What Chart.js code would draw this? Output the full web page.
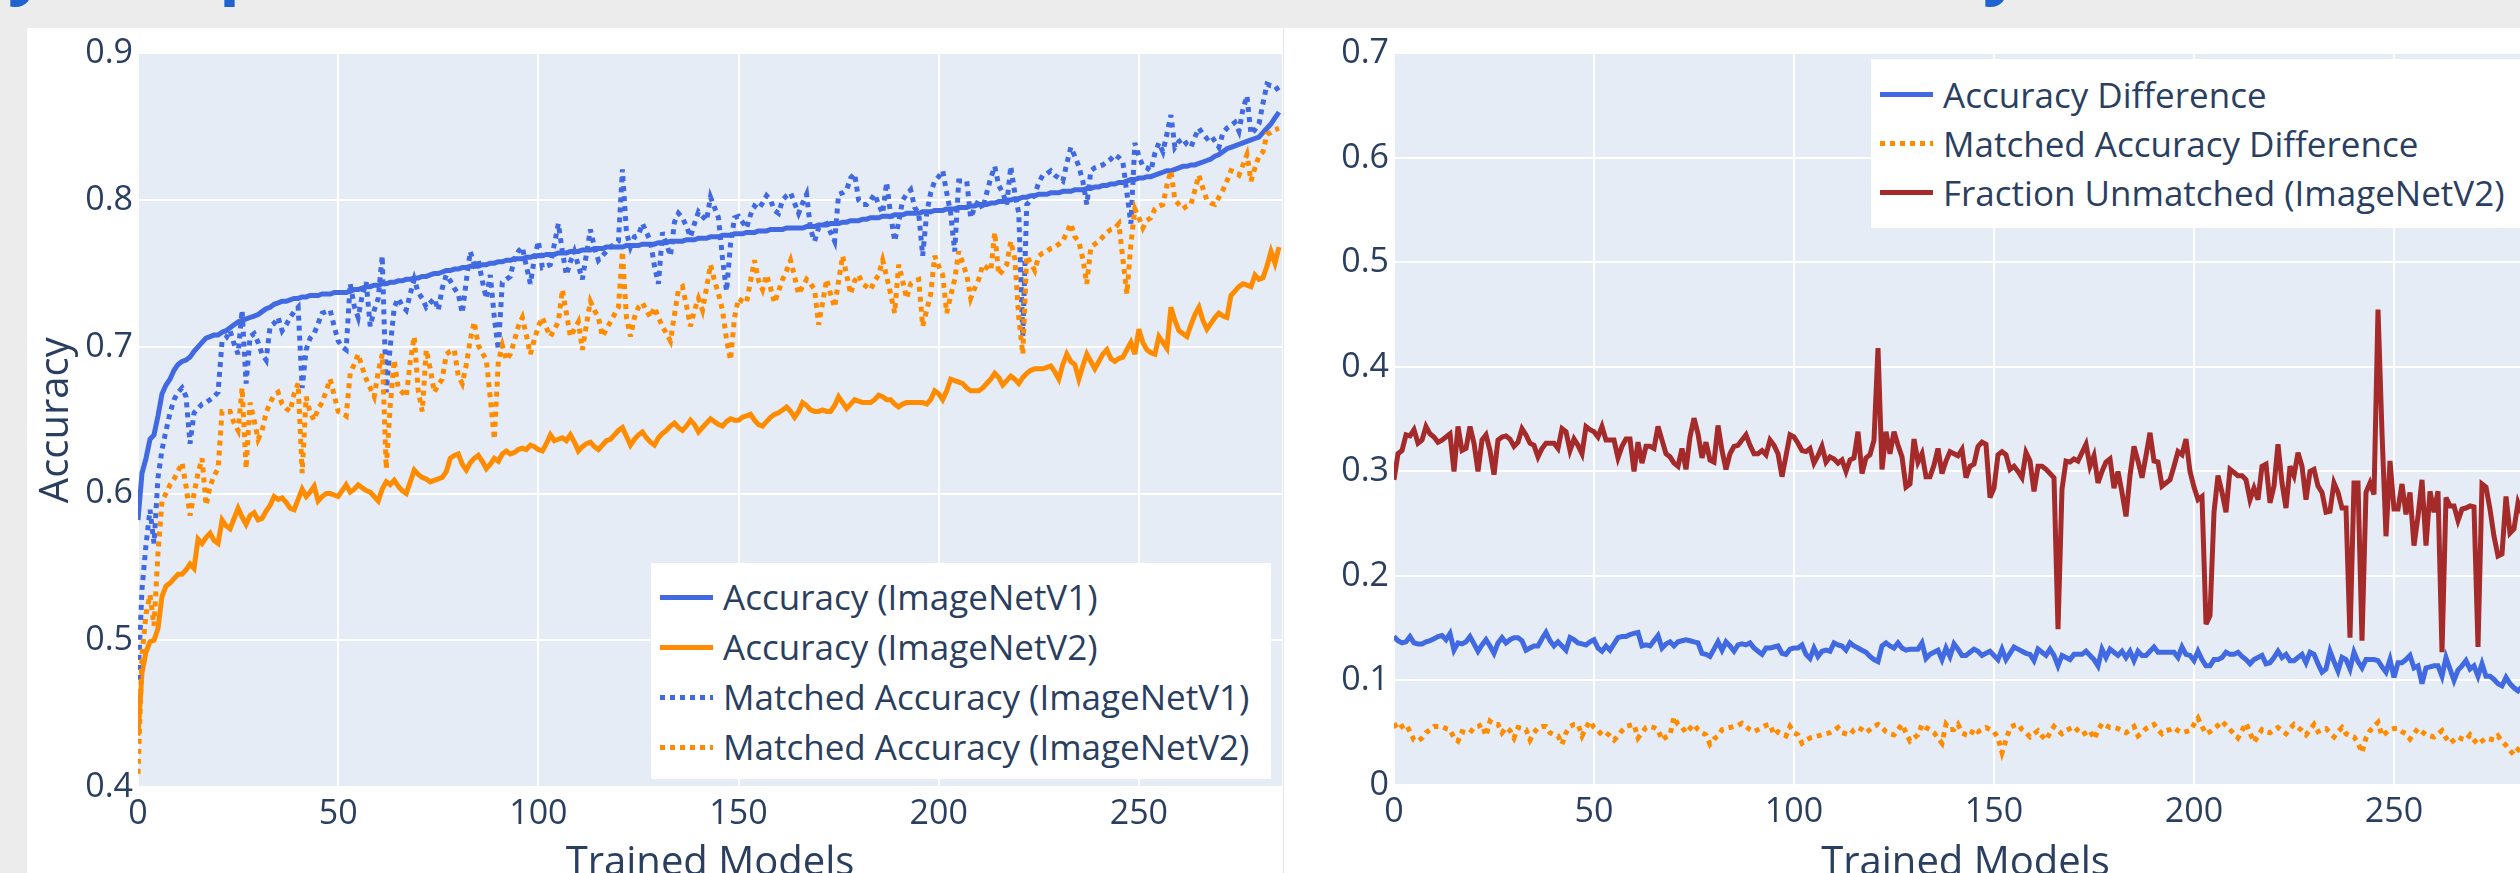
<!DOCTYPE html>
<html>
<head>
<meta charset="utf-8">
<title>Accuracy comparison</title>
<script src="https://cdn.jsdelivr.net/npm/chart.js@4.4.1/dist/chart.umd.min.js"></script>
<style>
  html, body { margin: 0; padding: 0; overflow: hidden; }
  body { width: 2520px; height: 873px; position: relative; background: #ececec; font-family: 'Open Sans', sans-serif; }
  .heading { position: absolute; left: 0; top: -73px; font: 700 72px/1 'Open Sans', sans-serif; color: #1f62d0; white-space: nowrap; }
  .card { position: absolute; top: 28px; height: 860px; background: #fff; }
  .box { position: absolute; width: 1256px; height: 864px; }
  .legend { position: absolute; box-sizing: border-box; background: #fff; color: #2a3f5f; font: 35px 'Open Sans', sans-serif; }
  .legend .row { position: relative; white-space: nowrap; }
  .legend .swatch { position: absolute; left: 9px; width: 53px; height: 5px; }
  .legend .label { position: absolute; left: 72px; top: 0; }
  .base { display: inline-block; width: 0; height: 0; vertical-align: baseline; }
</style>
</head>
<body>
<div class="heading" id="headLeft">Accurac<span id="markY1">y</span> Com<span id="markP1">p</span>arison<span class="base"></span></div>
<div class="heading" id="headRight">Accurac<span id="markY2">y</span> Difference<span class="base"></span></div>
<div class="card" style="left:27px;width:1256px"></div>
<div class="card" style="left:1283px;width:1300px;border-left:1px solid #e6e6e6"></div>
<div class="box" style="left:27px;top:28px"><canvas id="leftChart"></canvas></div>
<div class="box" style="left:1284px;top:28px"><canvas id="rightChart"></canvas></div>
<div class="legend" id="leftLegend" style="left:651px;top:563px;width:620px;height:216px;padding-top:9px"></div>
<div class="legend" id="rightLegend" style="left:1871px;top:59px;width:700px;height:169px;padding-top:11px"></div>
<script>
// accuracy of each trained model (x = model index 0..285)
const accV1 = [
  0.582,0.614,0.624,0.637,0.640,0.653,0.668,0.674,0.678,0.684,
  0.688,0.690,0.691,0.693,0.697,0.700,0.703,0.706,0.707,0.708,
  0.708,0.710,0.711,0.713,0.715,0.717,0.718,0.719,0.720,0.721,
  0.722,0.724,0.726,0.727,0.729,0.730,0.731,0.731,0.732,0.733,
  0.733,0.734,0.734,0.735,0.735,0.735,0.736,0.736,0.736,0.737,
  0.737,0.737,0.737,0.738,0.739,0.739,0.740,0.741,0.741,0.742,
  0.742,0.743,0.743,0.744,0.744,0.745,0.745,0.746,0.746,0.747,
  0.747,0.748,0.748,0.749,0.750,0.750,0.751,0.752,0.752,0.753,
  0.753,0.754,0.754,0.755,0.755,0.755,0.756,0.756,0.757,0.757,
  0.758,0.758,0.759,0.759,0.760,0.760,0.760,0.761,0.761,0.762,
  0.762,0.762,0.763,0.763,0.763,0.764,0.764,0.764,0.765,0.765,
  0.765,0.766,0.766,0.766,0.767,0.767,0.767,0.768,0.768,0.768,
  0.768,0.768,0.769,0.769,0.769,0.769,0.770,0.770,0.770,0.770,
  0.771,0.771,0.771,0.772,0.772,0.772,0.772,0.773,0.773,0.773,
  0.774,0.774,0.774,0.775,0.775,0.775,0.776,0.776,0.776,0.777,
  0.777,0.777,0.778,0.778,0.778,0.779,0.779,0.779,0.780,0.780,
  0.780,0.780,0.781,0.781,0.781,0.781,0.781,0.782,0.782,0.782,
  0.783,0.783,0.783,0.784,0.784,0.784,0.785,0.785,0.786,0.786,
  0.786,0.787,0.787,0.788,0.788,0.788,0.789,0.789,0.789,0.790,
  0.790,0.790,0.791,0.791,0.791,0.791,0.792,0.792,0.792,0.793,
  0.793,0.793,0.794,0.794,0.794,0.795,0.795,0.795,0.796,0.796,
  0.797,0.797,0.797,0.798,0.798,0.799,0.799,0.800,0.800,0.801,
  0.801,0.802,0.802,0.803,0.803,0.804,0.804,0.804,0.805,0.805,
  0.805,0.806,0.806,0.806,0.807,0.807,0.807,0.808,0.808,0.809,
  0.809,0.810,0.810,0.811,0.811,0.812,0.812,0.813,0.814,0.814,
  0.815,0.815,0.816,0.816,0.817,0.818,0.819,0.820,0.820,0.821,
  0.822,0.823,0.823,0.824,0.824,0.825,0.826,0.827,0.828,0.830,
  0.831,0.833,0.835,0.836,0.837,0.838,0.839,0.840,0.841,0.842,
  0.843,0.846,0.849,0.852,0.856,0.860
];
const accV2 = [
  0.435,0.478,0.492,0.499,0.500,0.508,0.530,0.537,0.539,0.542,
  0.545,0.545,0.548,0.552,0.549,0.569,0.566,0.570,0.573,0.568,
  0.566,0.582,0.578,0.576,0.583,0.590,0.584,0.579,0.585,0.587,
  0.582,0.583,0.588,0.592,0.598,0.596,0.597,0.594,0.590,0.589,
  0.596,0.603,0.598,0.601,0.605,0.595,0.598,0.600,0.600,0.599,
  0.598,0.602,0.606,0.601,0.603,0.606,0.604,0.602,0.601,0.598,
  0.595,0.603,0.608,0.606,0.609,0.605,0.602,0.600,0.608,0.616,
  0.613,0.611,0.610,0.608,0.609,0.610,0.611,0.615,0.624,0.626,
  0.627,0.620,0.616,0.621,0.624,0.626,0.622,0.617,0.620,0.624,
  0.622,0.627,0.629,0.627,0.628,0.630,0.631,0.630,0.633,0.632,
  0.630,0.629,0.634,0.640,0.636,0.637,0.638,0.636,0.640,0.635,
  0.629,0.632,0.634,0.635,0.632,0.630,0.633,0.636,0.637,0.640,
  0.643,0.645,0.639,0.633,0.637,0.640,0.642,0.638,0.635,0.633,
  0.638,0.641,0.643,0.646,0.648,0.645,0.643,0.646,0.650,0.647,
  0.642,0.645,0.648,0.651,0.649,0.647,0.646,0.649,0.651,0.650,
  0.650,0.652,0.653,0.654,0.650,0.647,0.646,0.649,0.652,0.654,
  0.655,0.657,0.659,0.656,0.652,0.656,0.662,0.660,0.657,0.656,
  0.656,0.657,0.656,0.656,0.660,0.666,0.662,0.658,0.661,0.664,
  0.663,0.662,0.662,0.662,0.664,0.667,0.666,0.664,0.664,0.661,
  0.659,0.661,0.662,0.662,0.662,0.662,0.662,0.661,0.664,0.670,
  0.668,0.664,0.670,0.678,0.677,0.676,0.675,0.672,0.670,0.670,
  0.670,0.672,0.675,0.678,0.682,0.679,0.674,0.677,0.680,0.678,
  0.675,0.679,0.682,0.684,0.685,0.685,0.685,0.686,0.687,0.683,
  0.678,0.688,0.695,0.690,0.688,0.678,0.687,0.695,0.690,0.685,
  0.690,0.695,0.698,0.692,0.690,0.692,0.693,0.698,0.703,0.695,
  0.712,0.703,0.698,0.696,0.695,0.707,0.703,0.699,0.727,0.718,
  0.711,0.709,0.707,0.715,0.722,0.727,0.718,0.712,0.716,0.720,
  0.723,0.721,0.720,0.735,0.738,0.741,0.743,0.742,0.741,0.749,
  0.746,0.747,0.755,0.765,0.757,0.768
];
const matchedV1 = [
  0.473,0.535,0.565,0.589,0.566,0.611,0.630,0.643,0.655,0.664,
  0.669,0.672,0.666,0.634,0.655,0.658,0.661,0.662,0.664,0.666,
  0.669,0.704,0.706,0.711,0.702,0.695,0.725,0.675,0.707,0.709,
  0.703,0.695,0.691,0.714,0.716,0.720,0.711,0.715,0.720,0.724,
  0.727,0.672,0.698,0.706,0.709,0.716,0.723,0.724,0.725,0.714,
  0.704,0.700,0.698,0.743,0.728,0.720,0.735,0.744,0.714,0.725,
  0.733,0.762,0.669,0.700,0.727,0.733,0.728,0.725,0.736,0.746,
  0.737,0.733,0.727,0.730,0.733,0.725,0.740,0.749,0.745,0.740,
  0.736,0.723,0.745,0.765,0.756,0.759,0.745,0.733,0.749,0.720,
  0.698,0.744,0.746,0.748,0.760,0.765,0.768,0.755,0.743,0.760,
  0.772,0.754,0.755,0.756,0.770,0.784,0.765,0.749,0.758,0.765,
  0.755,0.746,0.763,0.780,0.768,0.759,0.762,0.765,0.768,0.770,
  0.772,0.821,0.778,0.768,0.775,0.776,0.784,0.778,0.772,0.755,
  0.743,0.778,0.770,0.762,0.785,0.791,0.788,0.782,0.775,0.784,
  0.792,0.789,0.786,0.802,0.795,0.788,0.760,0.738,0.770,0.788,
  0.789,0.785,0.781,0.790,0.796,0.794,0.798,0.803,0.800,0.793,
  0.791,0.800,0.803,0.805,0.798,0.791,0.798,0.804,0.780,0.772,
  0.781,0.783,0.784,0.778,0.772,0.804,0.805,0.807,0.815,0.818,
  0.800,0.797,0.797,0.800,0.804,0.797,0.791,0.812,0.790,0.772,
  0.785,0.800,0.804,0.807,0.795,0.791,0.762,0.791,0.805,0.813,
  0.816,0.820,0.805,0.791,0.765,0.813,0.813,0.813,0.788,0.795,
  0.800,0.794,0.805,0.815,0.823,0.810,0.805,0.797,0.823,0.805,
  0.791,0.707,0.797,0.800,0.804,0.812,0.817,0.818,0.820,0.817,
  0.815,0.813,0.825,0.836,0.830,0.823,0.813,0.797,0.820,0.822,
  0.823,0.824,0.826,0.828,0.831,0.829,0.826,0.805,0.784,0.839,
  0.830,0.823,0.822,0.820,0.832,0.839,0.833,0.845,0.858,0.836,
  0.840,0.842,0.838,0.836,0.843,0.849,0.845,0.842,0.844,0.840,
  0.836,0.846,0.849,0.851,0.853,0.847,0.862,0.871,0.845,0.848,
  0.852,0.866,0.879,0.878,0.878,0.874
];
const matchedV2 = [
  0.409,0.490,0.518,0.531,0.510,0.560,0.595,0.600,0.606,0.610,
  0.615,0.621,0.605,0.585,0.600,0.614,0.624,0.592,0.605,0.612,
  0.617,0.656,0.656,0.656,0.648,0.643,0.672,0.617,0.662,0.650,
  0.637,0.643,0.655,0.662,0.667,0.669,0.661,0.658,0.656,0.668,
  0.675,0.614,0.666,0.655,0.650,0.658,0.662,0.670,0.678,0.667,
  0.656,0.655,0.653,0.682,0.688,0.695,0.686,0.678,0.672,0.666,
  0.683,0.695,0.617,0.660,0.691,0.672,0.669,0.666,0.690,0.707,
  0.670,0.656,0.698,0.685,0.669,0.674,0.678,0.695,0.697,0.698,
  0.680,0.675,0.688,0.705,0.717,0.701,0.696,0.691,0.665,0.637,
  0.690,0.701,0.691,0.695,0.704,0.714,0.720,0.708,0.695,0.705,
  0.714,0.720,0.713,0.707,0.712,0.717,0.739,0.723,0.707,0.712,
  0.717,0.698,0.715,0.731,0.725,0.720,0.707,0.712,0.717,0.722,
  0.727,0.765,0.720,0.707,0.720,0.727,0.730,0.725,0.720,0.727,
  0.720,0.714,0.709,0.704,0.722,0.739,0.741,0.728,0.714,0.725,
  0.733,0.725,0.740,0.756,0.745,0.736,0.725,0.705,0.691,0.720,
  0.733,0.731,0.730,0.745,0.759,0.745,0.739,0.749,0.740,0.730,
  0.738,0.746,0.752,0.759,0.748,0.736,0.741,0.746,0.743,0.739,
  0.715,0.730,0.746,0.736,0.727,0.745,0.762,0.749,0.736,0.745,
  0.749,0.743,0.741,0.739,0.745,0.749,0.759,0.748,0.736,0.723,
  0.756,0.745,0.733,0.743,0.745,0.746,0.714,0.725,0.736,0.762,
  0.755,0.749,0.723,0.735,0.746,0.765,0.757,0.749,0.733,0.740,
  0.746,0.756,0.754,0.752,0.778,0.749,0.752,0.756,0.772,0.760,
  0.720,0.695,0.762,0.757,0.752,0.762,0.764,0.765,0.767,0.768,
  0.770,0.772,0.778,0.784,0.775,0.772,0.760,0.743,0.768,0.770,
  0.772,0.775,0.778,0.780,0.781,0.784,0.760,0.736,0.770,0.794,
  0.788,0.781,0.786,0.788,0.794,0.796,0.797,0.810,0.820,0.800,
  0.797,0.794,0.796,0.797,0.807,0.817,0.808,0.800,0.798,0.797,
  0.802,0.807,0.813,0.820,0.819,0.817,0.824,0.831,0.813,0.822,
  0.830,0.833,0.845,0.846,0.848,0.849
];
// differences between the two test sets
const accDiff = [
  0.142,0.138,0.136,0.137,0.142,0.136,0.135,0.135,0.137,0.138,
  0.140,0.142,0.143,0.139,0.145,0.129,0.136,0.135,0.137,0.142,
  0.135,0.128,0.134,0.139,0.133,0.126,0.136,0.141,0.136,0.139,
  0.141,0.141,0.138,0.129,0.131,0.133,0.133,0.140,0.146,0.138,
  0.133,0.137,0.133,0.129,0.141,0.139,0.136,0.135,0.134,0.137,
  0.139,0.131,0.128,0.133,0.129,0.135,0.141,0.142,0.142,0.144,
  0.145,0.146,0.133,0.134,0.133,0.138,0.143,0.131,0.135,0.137,
  0.133,0.137,0.138,0.139,0.138,0.137,0.136,0.126,0.125,0.123,
  0.130,0.137,0.129,0.137,0.133,0.128,0.134,0.135,0.134,0.136,
  0.131,0.128,0.125,0.131,0.131,0.132,0.133,0.126,0.125,0.130,
  0.131,0.131,0.134,0.125,0.121,0.131,0.123,0.128,0.129,0.128,
  0.136,0.134,0.133,0.129,0.136,0.133,0.131,0.129,0.127,0.123,
  0.120,0.118,0.133,0.136,0.133,0.131,0.136,0.131,0.129,0.130,
  0.130,0.130,0.136,0.121,0.125,0.127,0.129,0.120,0.131,0.123,
  0.135,0.130,0.124,0.124,0.127,0.130,0.128,0.124,0.126,0.128,
  0.124,0.120,0.130,0.120,0.126,0.132,0.130,0.128,0.126,0.125,
  0.119,0.130,0.127,0.124,0.130,0.124,0.114,0.124,0.122,0.120,
  0.125,0.125,0.125,0.128,0.124,0.120,0.114,0.130,0.122,0.130,
  0.127,0.124,0.128,0.122,0.128,0.119,0.128,0.124,0.124,0.128,
  0.132,0.127,0.127,0.127,0.127,0.127,0.122,0.132,0.125,0.124,
  0.119,0.128,0.120,0.114,0.114,0.120,0.120,0.122,0.127,0.125,
  0.125,0.127,0.123,0.120,0.116,0.120,0.122,0.124,0.116,0.117,
  0.122,0.128,0.122,0.125,0.119,0.119,0.122,0.125,0.117,0.127,
  0.125,0.116,0.108,0.111,0.128,0.118,0.109,0.122,0.120,0.111,
  0.127,0.118,0.112,0.120,0.120,0.120,0.119,0.113,0.108,0.120,
  0.103,0.117,0.117,0.120,0.124,0.112,0.114,0.097,0.112,0.113,
  0.114,0.114,0.104,0.122,0.111,0.100,0.110,0.114,0.119,0.111,
  0.114,0.104,0.116,0.104,0.104,0.101,0.097,0.095,0.103,0.097,
  0.093,0.090,0.094,0.091,0.095,0.092
];
const matchedDiff = [
  0.059,0.053,0.056,0.058,0.051,0.043,0.042,0.045,0.050,0.053,
  0.056,0.056,0.056,0.054,0.053,0.045,0.042,0.051,0.050,0.050,
  0.055,0.056,0.058,0.047,0.061,0.058,0.058,0.050,0.055,0.052,
  0.045,0.055,0.054,0.053,0.043,0.050,0.055,0.056,0.056,0.050,
  0.048,0.047,0.039,0.050,0.056,0.058,0.058,0.047,0.055,0.061,
  0.055,0.052,0.048,0.050,0.047,0.043,0.047,0.052,0.056,0.057,
  0.058,0.045,0.050,0.055,0.056,0.055,0.053,0.043,0.046,0.048,
  0.065,0.058,0.055,0.050,0.054,0.058,0.053,0.050,0.048,0.039,
  0.044,0.047,0.053,0.054,0.055,0.056,0.057,0.059,0.056,0.053,
  0.051,0.053,0.055,0.057,0.058,0.048,0.051,0.049,0.047,0.056,
  0.050,0.048,0.040,0.043,0.045,0.046,0.047,0.048,0.049,0.050,
  0.052,0.055,0.050,0.049,0.048,0.053,0.055,0.053,0.050,0.053,
  0.056,0.058,0.055,0.051,0.049,0.048,0.053,0.058,0.050,0.042,
  0.045,0.048,0.058,0.055,0.053,0.050,0.045,0.040,0.058,0.053,
  0.053,0.058,0.050,0.048,0.047,0.054,0.051,0.053,0.055,0.053,
  0.051,0.045,0.031,0.043,0.055,0.057,0.058,0.053,0.050,0.046,
  0.049,0.052,0.047,0.043,0.050,0.056,0.052,0.049,0.052,0.054,
  0.056,0.052,0.048,0.050,0.052,0.044,0.052,0.059,0.057,0.055,
  0.055,0.054,0.052,0.050,0.053,0.056,0.047,0.050,0.054,0.056,
  0.058,0.053,0.049,0.052,0.053,0.055,0.052,0.050,0.051,0.052,
  0.058,0.064,0.056,0.049,0.051,0.054,0.057,0.061,0.057,0.053,
  0.049,0.045,0.052,0.059,0.050,0.041,0.047,0.053,0.051,0.050,
  0.053,0.055,0.052,0.049,0.054,0.058,0.055,0.052,0.048,0.053,
  0.058,0.051,0.053,0.054,0.050,0.046,0.051,0.055,0.049,0.047,
  0.046,0.040,0.031,0.045,0.052,0.056,0.060,0.047,0.050,0.053,
  0.054,0.054,0.051,0.049,0.044,0.049,0.054,0.051,0.048,0.047,
  0.046,0.049,0.052,0.045,0.040,0.043,0.046,0.044,0.043,0.048,
  0.043,0.039,0.042,0.045,0.044,0.043,0.047,0.042,0.038,0.033,
  0.029,0.034,0.031,0.028,0.032,0.030
];
const fracUnmatched = [
  0.292,0.317,0.320,0.335,0.334,0.340,0.327,0.330,0.343,0.336,
  0.333,0.328,0.330,0.333,0.336,0.300,0.343,0.320,0.322,0.343,
  0.327,0.300,0.330,0.335,0.320,0.297,0.330,0.333,0.334,0.331,
  0.324,0.328,0.341,0.335,0.327,0.325,0.314,0.322,0.327,0.327,
  0.327,0.322,0.341,0.338,0.320,0.331,0.325,0.317,0.343,0.340,
  0.338,0.333,0.343,0.330,0.330,0.330,0.313,0.324,0.331,0.331,
  0.300,0.328,0.308,0.324,0.324,0.322,0.343,0.330,0.317,0.314,
  0.308,0.305,0.322,0.302,0.333,0.351,0.336,0.313,0.328,0.311,
  0.309,0.344,0.320,0.302,0.317,0.324,0.325,0.330,0.335,0.325,
  0.317,0.317,0.320,0.316,0.330,0.325,0.317,0.295,0.315,0.335,
  0.333,0.327,0.320,0.319,0.322,0.308,0.315,0.324,0.309,0.314,
  0.312,0.308,0.311,0.300,0.311,0.313,0.338,0.298,0.313,0.316,
  0.330,0.418,0.302,0.338,0.317,0.338,0.325,0.314,0.285,0.288,
  0.331,0.309,0.317,0.295,0.295,0.306,0.322,0.298,0.310,0.319,
  0.317,0.315,0.321,0.294,0.305,0.307,0.324,0.328,0.326,0.275,
  0.284,0.316,0.319,0.316,0.302,0.305,0.300,0.294,0.318,0.310,
  0.281,0.305,0.305,0.302,0.298,0.294,0.149,0.283,0.310,0.309,
  0.312,0.310,0.318,0.326,0.305,0.315,0.289,0.300,0.309,0.312,
  0.284,0.300,0.280,0.257,0.296,0.324,0.310,0.294,0.315,0.337,
  0.310,0.309,0.286,0.289,0.292,0.305,0.319,0.316,0.331,0.300,
  0.285,0.273,0.276,0.154,0.162,0.261,0.296,0.280,0.261,0.302,
  0.299,0.296,0.296,0.292,0.273,0.284,0.273,0.305,0.307,0.270,
  0.286,0.326,0.289,0.265,0.305,0.296,0.318,0.305,0.273,0.300,
  0.302,0.286,0.280,0.261,0.262,0.289,0.280,0.265,0.265,0.141,
  0.289,0.289,0.138,0.280,0.289,0.278,0.455,0.337,0.238,0.310,
  0.264,0.264,0.288,0.259,0.280,0.229,0.257,0.292,0.229,0.281,
  0.261,0.281,0.127,0.275,0.267,0.267,0.253,0.264,0.265,0.267,
  0.266,0.132,0.288,0.285,0.264,0.238,0.219,0.221,0.276,0.241,
  0.245,0.270,0.260,0.265,0.272,0.258
];
const xTicks = [0, 50, 100, 150, 200, 250];

const tickColor = '#2a3f5f';
const tickFont = { family: "'Open Sans', sans-serif", size: 34 };
const titleFont = { family: "'Open Sans', sans-serif", size: 40 };
const blue = '#4169e1';
const orange = '#ff8c00';
const brown = '#a52a2a';

// plotly-like light blue plot area
const plotBackground = {
  id: 'plotBackground',
  beforeDraw(chart) {
    const { ctx, chartArea } = chart;
    ctx.save();
    ctx.fillStyle = '#e5ecf6';
    ctx.fillRect(chartArea.left, chartArea.top, chartArea.right - chartArea.left, chartArea.bottom - chartArea.top);
    ctx.restore();
  },
  beforeDatasetsDraw(chart) {
    chart.ctx.miterLimit = 4;
  }
};

function series(label, values, color, dotted, order) {
  return {
    label: label,
    data: values.map((v, i) => ({ x: i, y: v })),
    borderColor: color,
    backgroundColor: color,
    borderWidth: 5,
    borderDash: dotted ? [5, 5] : [],
    borderJoinStyle: 'miter',
    pointRadius: 0,
    tension: 0,
    order: order
  };
}

function chartOptions(yMin, yMax, yTitle, yWidth, xHeight, rightPad) {
  return {
    responsive: true,
    maintainAspectRatio: false,
    animation: false,
    devicePixelRatio: 1,
    events: [],
    layout: { padding: { top: 24, right: rightPad, bottom: 0, left: 0 } },
    plugins: { legend: { display: false }, tooltip: { enabled: false } },
    scales: {
      x: {
        type: 'linear',
        min: 0,
        max: 285.75,
        border: { display: false },
        grid: { color: '#ffffff', lineWidth: 2, drawTicks: false },
        afterBuildTicks: scale => { scale.ticks = xTicks.map(v => ({ value: v })); },
        ticks: { color: tickColor, font: tickFont, padding: 7, maxRotation: 0, autoSkip: false },
        title: { display: true, text: 'Trained Models', color: tickColor, font: titleFont },
        afterFit: scale => { scale.height = xHeight; }
      },
      y: {
        min: yMin,
        max: yMax,
        border: { display: false },
        grid: { color: '#ffffff', lineWidth: 2, drawTicks: false },
        ticks: {
          stepSize: 0.1,
          color: tickColor,
          font: tickFont,
          padding: 5,
          callback: v => (v === 0 ? '0' : v.toFixed(1))
        },
        title: { display: yTitle !== '', text: yTitle, color: tickColor, font: titleFont, padding: { top: 6, bottom: 0 } },
        afterFit: scale => { scale.width = yWidth; }
      }
    }
  };
}

function buildLegend(el, datasets, rowHeight) {
  datasets.forEach(ds => {
    const row = document.createElement('div');
    row.className = 'row';
    row.style.height = rowHeight + 'px';
    const swatch = document.createElement('span');
    swatch.className = 'swatch';
    swatch.style.top = (rowHeight / 2 - 2.5) + 'px';
    swatch.style.background = ds.borderDash.length
      ? 'repeating-linear-gradient(90deg, ' + ds.borderColor + ' 0 5px, transparent 5px 10px)'
      : ds.borderColor;
    const text = document.createElement('span');
    text.className = 'label';
    text.style.lineHeight = rowHeight + 'px';
    text.textContent = ds.label;
    row.appendChild(swatch);
    row.appendChild(text);
    el.appendChild(row);
  });
}

const leftSets = [
  series('Accuracy (ImageNetV1)', accV1, blue, false, 4),
  series('Accuracy (ImageNetV2)', accV2, orange, false, 3),
  series('Matched Accuracy (ImageNetV1)', matchedV1, blue, true, 2),
  series('Matched Accuracy (ImageNetV2)', matchedV2, orange, true, 1)
];
const rightSets = [
  series('Accuracy Difference', accDiff, blue, false, 3),
  series('Matched Accuracy Difference', matchedDiff, orange, true, 2),
  series('Fraction Unmatched (ImageNetV2)', fracUnmatched, brown, false, 1)
];

new Chart(document.getElementById('leftChart'), {
  type: 'line',
  data: { datasets: leftSets },
  options: chartOptions(0.4, 0.9, 'Accuracy', 111, 105, 1),
  plugins: [plotBackground]
});
new Chart(document.getElementById('rightChart'), {
  type: 'line',
  data: { datasets: rightSets },
  options: chartOptions(0, 0.7, '', 110, 107, 3),
  plugins: [plotBackground]
});

buildLegend(document.getElementById('leftLegend'), leftSets, 50);
buildLegend(document.getElementById('rightLegend'), rightSets, 49);

// headings are cut off by the top edge, only the descenders show
function placeHeadings() {
  const left = document.getElementById('headLeft');
  const right = document.getElementById('headRight');
  const y1 = document.getElementById('markY1');
  const p1 = document.getElementById('markP1');
  const y2 = document.getElementById('markY2');
  const gap = p1.getBoundingClientRect().left - y1.getBoundingClientRect().left;
  const size = 72 * 211 / gap;
  [left, right].forEach(h => {
    h.style.fontSize = size + 'px';
    h.style.top = '0px';
    const baseline = h.querySelector('.base').getBoundingClientRect().bottom;
    // descender tails end about 8px below the top edge
    h.style.top = (-9 - baseline) + 'px';
  });
  left.style.left = (8 - (y1.getBoundingClientRect().left - left.getBoundingClientRect().left)) + 'px';
  right.style.left = (1983 - (y2.getBoundingClientRect().left - right.getBoundingClientRect().left)) + 'px';
}
placeHeadings();
</script>
</body>
</html>
